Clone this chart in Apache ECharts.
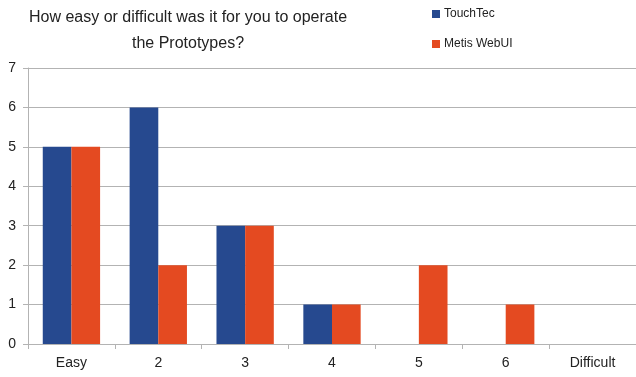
<!DOCTYPE html>
<html>
<head>
<meta charset="utf-8">
<script src="https://cdn.jsdelivr.net/npm/echarts@6/dist/echarts.min.js"></script>
<style>
  html, body { margin: 0; padding: 0; background: #fff; }
  #main { width: 636px; height: 377px; }
</style>
</head>
<body>
<div id="main"></div>
<script>
const categories = ['Easy', '2', '3', '4', '5', '6', 'Difficult'];
const touchTec = [5, 6, 3, 1, 0, 0, 0];
const metisWebUI = [5, 2, 3, 1, 2, 1, 0];

var myChart = echarts.init(document.getElementById('main'));
var option = {
    animation: false,
    textStyle: { fontFamily: 'Liberation Sans' },
    title: {
        text: 'How easy or difficult was it for you to operate\nthe Prototypes?',
        left: 183,
        textAlign: 'center',
        top: 0,
        textStyle: { fontSize: 16, fontWeight: 'normal', color: '#222', lineHeight: 26, fontFamily: 'Liberation Sans' }
    },
    legend: {
        orient: 'vertical',
        left: 427,
        top: 3,
        itemWidth: 8,
        itemHeight: 8,
        itemGap: 18,
        icon: 'rect',
        textStyle: { fontSize: 12, color: '#222', padding: [0, 0, 0, -1] },
        data: ['TouchTec', 'Metis WebUI']
    },
    grid: { left: 28, right: -8, top: 68, bottom: 33 },
    xAxis: {
        type: 'category',
        data: categories,
        axisLine: { lineStyle: { color: '#b3b3b3' } },
        axisTick: { show: true, length: 5, lineStyle: { color: '#b3b3b3' } },
        axisLabel: { fontSize: 14, color: '#222', margin: 12 }
    },
    yAxis: {
        type: 'value',
        min: 0,
        max: 7,
        interval: 1,
        axisLine: { show: true, lineStyle: { color: '#b3b3b3' } },
        axisTick: { show: true, length: 5, lineStyle: { color: '#b3b3b3' } },
        axisLabel: { fontSize: 14, color: '#222', margin: 12 },
        splitLine: { lineStyle: { color: '#b3b3b3' } }
    },
    series: [
        {
            name: 'TouchTec',
            type: 'bar',
            data: touchTec,
            barGap: '0%',
            barCategoryGap: '34%',
            itemStyle: { color: '#26498f' }
        },
        {
            name: 'Metis WebUI',
            type: 'bar',
            data: metisWebUI,
            itemStyle: { color: '#e44a21' }
        }
    ]
};
myChart.setOption(option);
</script>
</body>
</html>
